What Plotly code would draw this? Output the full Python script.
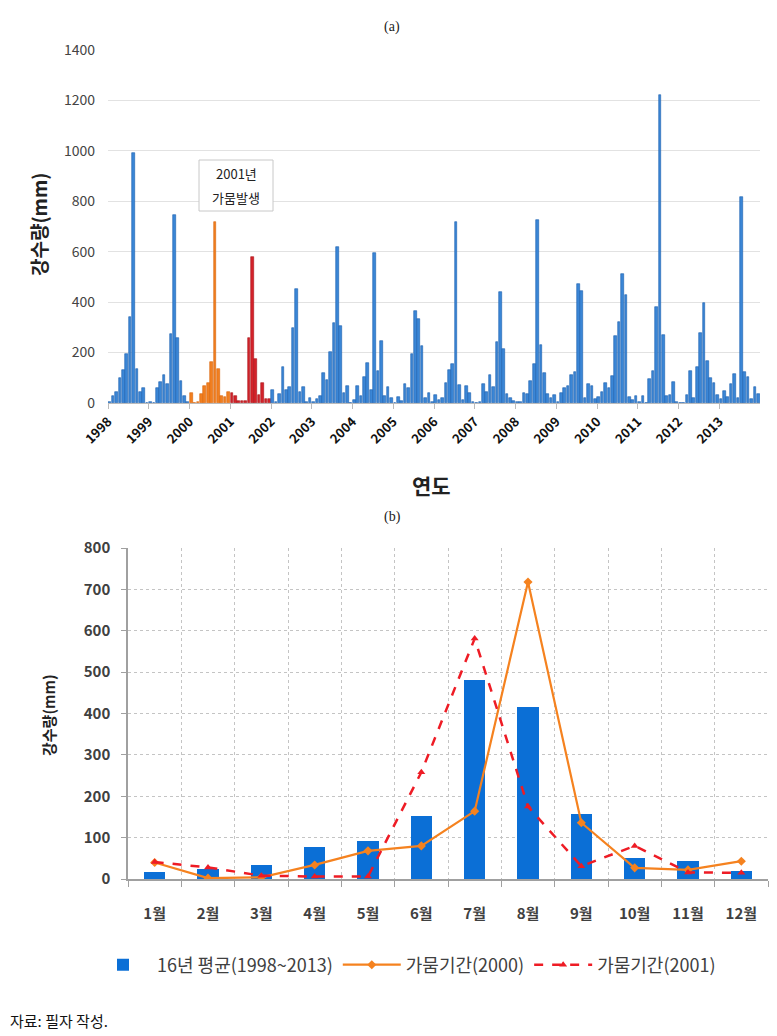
import plotly.graph_objects as go

# ---------------- data ----------------
years = list(range(1998, 2014))
month_labels = ["1월", "2월", "3월", "4월", "5월", "6월", "7월", "8월", "9월", "10월", "11월", "12월"]

rain_1998 = [5, 28, 45, 99, 131, 195, 340, 993, 136, 45, 58, 2]
rain_1999 = [3, 1, 58, 85, 111, 75, 274, 746, 257, 86, 29, 5]
rain_2000 = [40, 2, 4, 34, 68, 80, 164, 718, 136, 27, 22, 43]
rain_2001 = [41, 28, 8, 6, 6, 258, 581, 175, 31, 80, 16, 15]
rain_2002 = [52, 3, 36, 142, 52, 65, 297, 454, 42, 62, 5, 19]
rain_2003 = [5, 15, 27, 120, 91, 203, 319, 618, 306, 41, 69, 2]
rain_2004 = [12, 69, 29, 102, 160, 52, 595, 126, 244, 28, 65, 21]
rain_2005 = [2, 25, 8, 74, 58, 195, 363, 334, 228, 21, 41, 5]
rain_2006 = [32, 12, 19, 78, 131, 155, 718, 72, 12, 68, 38, 5]
rain_2007 = [2, 5, 75, 45, 110, 62, 241, 440, 215, 36, 21, 9]
rain_2008 = [5, 5, 41, 36, 87, 155, 724, 230, 120, 36, 21, 32]
rain_2009 = [3, 38, 58, 68, 111, 122, 473, 445, 21, 74, 68, 16]
rain_2010 = [25, 45, 81, 58, 107, 265, 323, 511, 430, 25, 12, 28]
rain_2011 = [5, 28, 2, 94, 125, 380, 1220, 270, 29, 33, 82, 5]
rain_2012 = [2, 2, 32, 127, 21, 144, 277, 396, 168, 98, 78, 32]
rain_2013 = [16, 49, 23, 74, 115, 19, 818, 122, 102, 15, 65, 34]

avg_16yr = [16, 23, 35, 78, 93, 152, 482, 416, 156, 51, 43, 20]
drought_2000 = rain_2000
drought_2001 = rain_2001

yearly = [rain_1998, rain_1999, rain_2000, rain_2001, rain_2002, rain_2003, rain_2004, rain_2005,
          rain_2006, rain_2007, rain_2008, rain_2009, rain_2010, rain_2011, rain_2012, rain_2013]

# ---------------- build ----------------
FONT = "Noto Sans CJK KR"
OFF = 8                       # page body margin
W, H = 777 - OFF, 1036 - OFF


def fx(px):
    return (px - OFF) / W


def py(px):
    return 1 - (px - OFF) / H


top_x, top_y, cols, edges = [], [], [], []
for yr, vals in zip(years, yearly):
    for m, v in enumerate(vals):
        top_x.append(yr + (m + 0.5) / 12)
        top_y.append(v)
        if yr == 2000:
            cols.append("#F27F1F"); edges.append("#D8650C")
        elif yr == 2001:
            cols.append("#D4222A"); edges.append("#A81419")
        else:
            cols.append("#3A86D6"); edges.append("#1D5FAE")

fig = go.Figure()
fig.add_trace(go.Bar(x=top_x, y=top_y, width=0.78 / 12,
                     marker=dict(color=cols, line=dict(color=edges, width=0.6)),
                     xaxis="x", yaxis="y", showlegend=False, hoverinfo="x+y"))

mx = list(range(12))
fig.add_trace(go.Bar(x=mx, y=avg_16yr, width=0.4, marker=dict(color="#0B6FD6", line=dict(width=0)),
                     name="16년 평균(1998~2013)", xaxis="x2", yaxis="y2"))
fig.add_trace(go.Scatter(x=mx, y=drought_2000, mode="lines+markers",
                         line=dict(color="#F5821F", width=2.2),
                         marker=dict(symbol="diamond", size=7, color="#F5821F"),
                         name="가뭄기간(2000)", xaxis="x2", yaxis="y2"))
fig.add_trace(go.Scatter(x=mx, y=drought_2001, mode="lines+markers",
                         line=dict(color="#EE1C25", width=2.5, dash="dash"),
                         marker=dict(symbol="triangle-up", size=7, color="#EE1C25"),
                         name="가뭄기간(2001)", xaxis="x2", yaxis="y2"))

fig.update_layout(
    width=W, height=H,
    autosize=False,
    margin=dict(l=0, r=0, t=0, b=0, pad=0, autoexpand=False),
    paper_bgcolor="white", plot_bgcolor="white",
    font=dict(family=FONT, color="#404040"),
    barmode="overlay",
    bargap=0,
    xaxis=dict(domain=[fx(108), fx(760)], range=[1998, 2014], anchor="y", automargin=False,
               tickmode="array", tickvals=years, ticktext=[str(y) for y in years],
               tickangle=-45, tickfont=dict(size=13, color="#111111", weight="bold"),
               showline=True, linecolor="#BBBBBB", linewidth=1,
               ticks="outside", ticklen=5, tickcolor="#BBBBBB",
               showgrid=False, zeroline=False),
    yaxis=dict(domain=[py(403), py(50)], range=[0, 1400], dtick=200, anchor="x", automargin=False,
               gridcolor="#E2E2E2", gridwidth=1, zeroline=False,
               tickfont=dict(size=14, color="#444444"), ticklabelstandoff=12),
    xaxis2=dict(domain=[fx(128), fx(768)], range=[-0.5, 11.5], anchor="y2", automargin=False,
                tickmode="array", tickvals=mx, ticktext=month_labels,
                tickfont=dict(size=15, color="#404040", weight="bold"),
                showgrid=False, ticks="", zeroline=False,
                showline=True, linecolor="#A0A0A0", linewidth=1.5,
                ticklabelstandoff=20,
                minor=dict(tickmode="array", tickvals=[i - 0.5 for i in range(13)],
                           showgrid=True, gridcolor="#C4C4C4", griddash="dot", gridwidth=1,
                           ticks="outside", ticklen=6, tickcolor="#A0A0A0")),
    yaxis2=dict(domain=[py(879), py(548)], range=[0, 800], dtick=100, anchor="x2", automargin=False,
                gridcolor="#C4C4C4", griddash="dot", gridwidth=1, zeroline=False,
                showline=True, linecolor="#A0A0A0", linewidth=1.5,
                ticks="outside", ticklen=5, tickcolor="#A0A0A0",
                tickfont=dict(size=15, color="#404040", weight="bold"), ticklabelstandoff=8),
    legend=dict(orientation="h", x=fx(405), xanchor="center", y=py(965), yanchor="middle",
                font=dict(size=18, color="#404040"), itemwidth=58, traceorder="normal",
                bgcolor="rgba(0,0,0,0)"),
    shapes=[
        dict(type="rect", xref="paper", yref="paper",
             x0=fx(199), x1=fx(273), y0=py(211), y1=py(160),
             line=dict(color="#C8C8C8", width=1), fillcolor="white", layer="above"),
    ],
    annotations=[
        dict(text="(a)", x=fx(392), y=py(27), xref="paper", yref="paper", showarrow=False,
             xanchor="center", yanchor="middle",
             font=dict(family="Liberation Serif", size=14, color="#222222")),
        dict(text="(b)", x=fx(392), y=py(517), xref="paper", yref="paper", showarrow=False,
             xanchor="center", yanchor="middle",
             font=dict(family="Liberation Serif", size=14, color="#222222")),
        dict(text="<b>강수량(mm)</b>", x=fx(38), y=py(225), xref="paper", yref="paper",
             xanchor="center", yanchor="middle",
             showarrow=False, textangle=-90, font=dict(size=19, color="#222222")),
        dict(text="<b>연도</b>", x=fx(432), y=py(485), xref="paper", yref="paper",
             xanchor="center", yanchor="middle",
             showarrow=False, font=dict(size=21, color="#222222")),
        dict(text="2001년", x=fx(236), y=py(174), xref="paper", yref="paper",
             xanchor="center", yanchor="middle", showarrow=False,
             font=dict(size=13, color="#222222")),
        dict(text="가뭄발생", x=fx(236), y=py(197), xref="paper", yref="paper",
             xanchor="center", yanchor="middle", showarrow=False,
             font=dict(size=13, color="#222222")),
        dict(text="<b>강수량(mm)</b>", x=fx(48), y=py(715), xref="paper", yref="paper",
             xanchor="center", yanchor="middle",
             showarrow=False, textangle=-90, font=dict(size=15, color="#222222")),
        dict(text="자료: 필자 작성.", x=fx(8), y=py(1020), xref="paper", yref="paper",
             xanchor="left", yanchor="middle", showarrow=False,
             font=dict(size=15, color="#111111")),
    ],
)

fig.write_html("out.html")
